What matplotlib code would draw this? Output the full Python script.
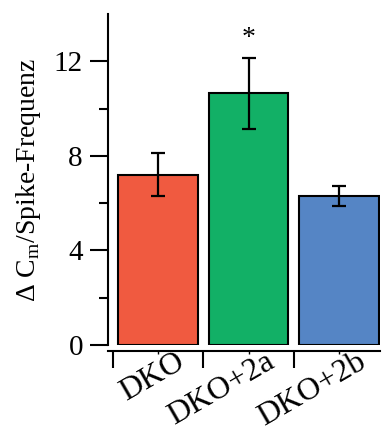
import matplotlib
matplotlib.use('Agg')
import matplotlib.pyplot as plt
import matplotlib.transforms as mtransforms
import numpy as np

groups = ['DKO', 'DKO+2a', 'DKO+2b']
means = [7.2, 10.65, 6.3]
errors = [0.9, 1.5, 0.42]
colors = ['#F05A40', '#12B066', '#5585C5']
significance = ['', '*', '']

plt.rcParams['font.family'] = ['Liberation Serif', 'DejaVu Serif']
plt.rcParams['mathtext.fontset'] = 'custom'
plt.rcParams['mathtext.rm'] = 'Liberation Serif'

fig = plt.figure(figsize=(3.82, 4.34), dpi=100)
ax = fig.add_axes([0.2827, 0.2051, 0.712, 0.7627])

x = np.arange(len(groups))
ax.bar(x, means, width=0.88, color=colors, edgecolor='black', linewidth=1.5,
       zorder=2)
ax.errorbar(x, means, yerr=errors, fmt='none', ecolor='black', elinewidth=1.6,
            capsize=5, capthick=1.6, zorder=3)

for xi, m, e, s in zip(x, means, errors, significance):
    if s:
        ax.text(xi, m + e + 0.3, s, ha='center', va='bottom', fontsize=20)

ax.set_xlim(-0.55, 2.45)
ax.set_ylim(0, 14)

ax.spines['top'].set_visible(False)
ax.spines['right'].set_visible(False)
ax.spines['left'].set_linewidth(1.5)
ax.spines['bottom'].set_linewidth(1.5)
ax.spines['bottom'].set_position(('outward', 4))

ax.set_yticks([0, 4, 8, 12])
ax.set_yticks([2, 6, 10], minor=True)
ax.tick_params(axis='y', which='major', length=13, width=1.5, labelsize=21, pad=5)
ax.tick_params(axis='y', which='minor', length=6.5, width=1.5)

ax.set_xticks([-0.5, 0.5, 1.5])
ax.set_xticklabels([])
ax.set_xticks(x, groups, minor=True)
ax.tick_params(axis='x', which='major', length=12, width=1.5)
ax.tick_params(axis='x', which='minor', length=2, width=1.0, labelsize=23,
               pad=0, labelrotation=30)

# labels hang from a point right of each bar centre
offset = mtransforms.ScaledTranslation(17 / 100, 6 / 100, fig.dpi_scale_trans)
for lbl in ax.get_xticklabels(minor=True):
    lbl.set_rotation_mode('anchor')
    lbl.set_ha('right')
    lbl.set_va('top')
    lbl.set_transform(lbl.get_transform() + offset)

ax.set_ylabel(r'$\Delta$ C$_\mathrm{m}$/Spike-Frequenz', fontsize=20, labelpad=8)

fig.savefig('out.png', dpi=100)
